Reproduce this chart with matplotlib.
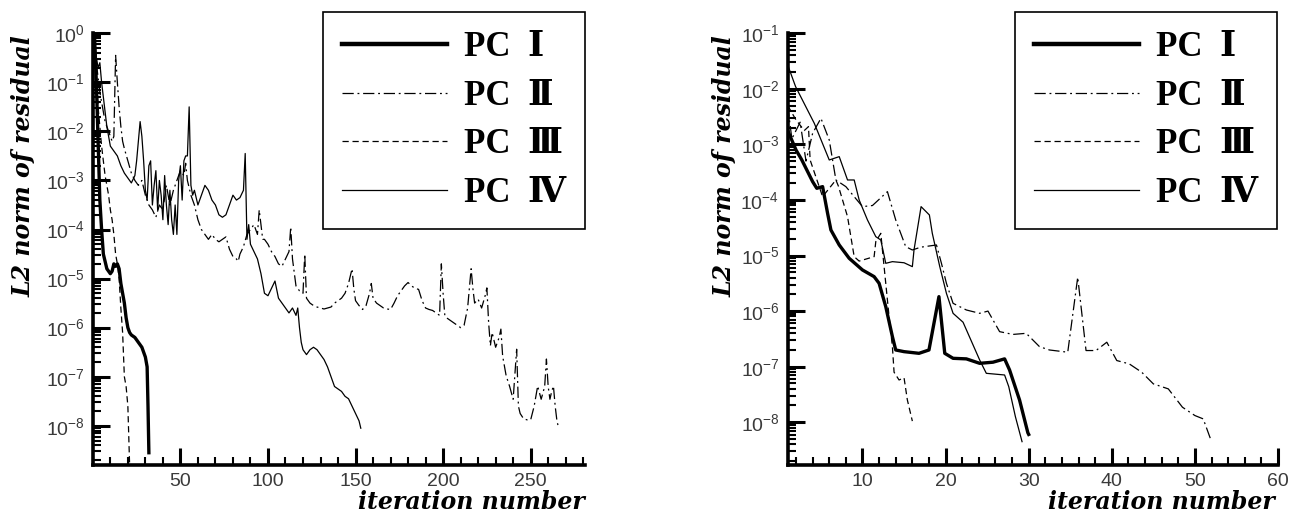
import matplotlib
matplotlib.use("Agg")
import matplotlib.pyplot as plt
from matplotlib.lines import Line2D
from matplotlib.ticker import LogLocator, MultipleLocator, FixedLocator, NullFormatter
import numpy as np

plt.rcParams['mathtext.fontset'] = 'custom'
plt.rcParams['mathtext.rm'] = 'Liberation Sans'
plt.rcParams['mathtext.it'] = 'Liberation Sans'
plt.rcParams['font.family'] = ['Liberation Sans']

# series as (iteration, log10 of residual)
labels = ["PC  Ⅰ", "PC  Ⅱ", "PC  Ⅲ", "PC  Ⅳ"]

# left panel
left_pc1 = [(1, -0.1), (2, -1.0), (3, -2.2), (4, -3.4), (5, -4.0), (6, -4.5), (8, -4.8), (10, -4.9),
            (11, -4.85), (12, -4.7), (13, -4.75), (14, -4.7), (15, -4.8), (16, -5.1), (17, -5.3),
            (18, -5.5), (19, -5.8), (20, -6.0), (21, -6.1), (22, -6.15), (24, -6.2), (26, -6.3),
            (28, -6.4), (29, -6.5), (30, -6.6), (31, -6.8), (31.5, -7.6), (32, -8.55)]

left_pc2 = [(1, -0.2), (2, -0.6), (3, -0.9), (4, -1.2), (5, -1.4), (6, -1.6), (7, -1.8), (8, -1.9),
            (9, -2.0), (10, -2.1), (11, -2.2), (12, -2.1), (13, -0.45), (14, -1.0), (15, -1.5),
            (16, -1.9), (17, -2.2), (18, -2.35), (20, -2.6), (22, -2.85), (24, -3.0), (26, -3.1),
            (28, -3.0), (30, -3.3), (32, -3.5), (34, -3.6), (36, -3.75), (38, -3.5), (40, -3.6),
            (42, -3.1), (44, -3.5), (46, -3.2), (48, -3.0), (50, -2.8), (52, -2.9), (53, -2.65),
            (54, -3.0), (56, -3.3), (58, -3.5), (60, -3.8), (62, -4.0), (64, -4.1), (66, -4.2),
            (68, -4.1), (70, -4.2), (72, -4.25), (74, -4.2), (76, -4.15), (78, -4.4), (80, -4.55),
            (82, -4.6), (83, -4.65), (84, -4.5), (86, -4.35), (88, -4.1), (90, -4.0), (92, -3.9),
            (94, -4.1), (95, -3.6), (96, -3.9), (97, -4.2), (98, -4.2), (100, -4.3), (102, -4.45),
            (104, -4.55), (106, -4.7), (108, -4.75), (110, -4.6), (112, -4.45), (113, -3.95),
            (114, -4.6), (116, -5.15), (118, -5.25), (120, -5.3), (121, -4.5), (122, -5.4),
            (124, -5.5), (126, -5.55), (128, -5.58), (130, -5.6), (132, -5.62), (134, -5.6),
            (136, -5.58), (138, -5.5), (140, -5.45), (142, -5.4), (144, -5.3), (146, -5.1),
            (148, -4.8), (149, -5.2), (150, -5.45), (152, -5.55), (154, -5.63), (156, -5.55),
            (158, -5.3), (159, -5.1), (160, -5.4), (162, -5.5), (164, -5.55), (166, -5.6),
            (168, -5.62), (170, -5.63), (172, -5.5), (174, -5.35), (176, -5.25), (178, -5.15),
            (180, -5.08), (182, -5.15), (184, -5.2), (186, -5.22), (188, -5.45), (190, -5.6),
            (192, -5.63), (194, -5.65), (196, -5.7), (198, -5.75), (199, -4.7), (200, -5.3),
            (201, -5.76), (202, -5.8), (204, -5.85), (206, -5.9), (208, -5.95), (210, -6.0),
            (212, -5.95), (214, -5.6), (216, -4.8), (217, -5.2), (218, -5.5), (220, -5.42),
            (222, -5.6), (224, -5.35), (225, -5.19), (226, -5.9), (227, -6.37), (228, -6.1),
            (230, -6.4), (232, -6.2), (233, -6.03), (234, -6.58), (236, -6.98), (238, -7.2),
            (240, -7.46), (242, -6.44), (243, -7.6), (244, -7.75), (246, -7.86), (248, -7.88),
            (250, -7.88), (252, -7.6), (254, -7.19), (256, -7.46), (258, -7.2), (259, -6.64),
            (260, -7.2), (261, -7.46), (262, -7.3), (263, -7.19), (264, -7.6), (265, -7.9),
            (266, -8.05)]

left_pc3 = [(1, -0.3), (2, -0.9), (3, -1.5), (4, -1.9), (5, -2.3), (6, -2.6), (7, -2.9), (8, -3.1),
            (9, -3.3), (10, -3.6), (11, -3.8), (12, -4.1), (13, -4.5), (14, -4.7), (15, -5.0),
            (16, -5.6), (17, -6.1), (18, -7.0), (19, -7.2), (20, -7.6), (21, -8.8)]

left_pc4 = [(1, -0.1), (2, -0.5), (3, -0.7), (4, -0.6), (5, -1.0), (6, -1.3), (7, -1.6), (8, -1.9),
            (9, -2.1), (10, -2.3), (12, -2.4), (14, -2.5), (16, -2.7), (18, -2.85), (20, -2.95),
            (22, -3.05), (24, -2.9), (25, -2.6), (26, -2.2), (27, -1.8), (28, -2.1), (29, -2.6),
            (30, -3.2), (31, -3.4), (32, -2.7), (33, -2.6), (34, -3.5), (35, -3.1), (36, -2.8),
            (37, -3.6), (38, -3.0), (39, -3.3), (40, -3.8), (41, -2.9), (42, -3.5), (43, -3.9),
            (44, -3.2), (45, -3.8), (46, -4.1), (47, -3.5), (48, -4.1), (49, -3.0), (50, -2.7),
            (51, -3.4), (52, -2.6), (53, -2.5), (54, -2.5), (55, -1.5), (56, -3.1), (57, -3.3),
            (58, -3.2), (60, -3.5), (62, -3.3), (64, -3.1), (66, -3.2), (68, -3.4), (70, -3.5),
            (72, -3.7), (74, -3.75), (76, -3.7), (78, -3.5), (80, -3.3), (82, -3.4), (84, -3.35),
            (86, -3.2), (87, -2.45), (88, -4.2), (89, -3.9), (90, -4.3), (92, -4.45), (94, -4.6),
            (96, -4.9), (98, -5.3), (100, -5.35), (102, -5.2), (104, -5.05), (106, -5.4),
            (108, -5.5), (110, -5.6), (112, -5.7), (114, -5.6), (116, -5.75), (117, -5.6),
            (118, -6.0), (119, -6.3), (120, -6.45), (122, -6.55), (124, -6.45), (126, -6.4),
            (128, -6.45), (130, -6.55), (132, -6.65), (134, -6.8), (136, -7.0), (138, -7.2),
            (140, -7.25), (142, -7.3), (144, -7.4), (146, -7.45), (148, -7.6), (150, -7.75),
            (152, -7.9), (153, -8.05)]

# right panel
right_pc1 = [(1, -2.75), (2, -3.1), (2.7, -3.28), (4, -3.67), (4.5, -3.79), (5.2, -3.76),
             (5.8, -4.24), (6.2, -4.54), (7.2, -4.81), (8.4, -5.05), (10, -5.26), (11.4, -5.38),
             (12, -5.5), (12.8, -5.92), (13.6, -6.46), (14, -6.7), (15, -6.73), (16.8, -6.76),
             (18, -6.7), (19.2, -5.74), (19.9, -6.76), (20.9, -6.85), (22.5, -6.86), (24.1, -6.94),
             (25.7, -6.92), (27.1, -6.86), (27.7, -7.06), (28.9, -7.6), (29.9, -8.19), (30, -8.22)]

right_pc2 = [(1, -2.3), (1.5, -2.9), (2.5, -2.6), (3.2, -3.3), (4, -2.8), (5, -2.53), (6, -2.92),
             (6.8, -3.64), (8, -3.76), (10, -4.12), (11.2, -4.1), (13, -3.85), (14, -4.36),
             (15.2, -4.84), (16, -4.9), (17, -4.85), (18.9, -4.81), (19.5, -5.14), (20.1, -5.5),
             (20.9, -5.86), (22.5, -5.98), (24.1, -6.04), (25.1, -6.0), (26.5, -6.37),
             (28.1, -6.42), (29.7, -6.4), (31.3, -6.64), (32.5, -6.7), (34.7, -6.74), (35.9, -5.39),
             (36.9, -6.71), (38.1, -6.71), (39.4, -6.56), (40.6, -6.89), (42.1, -6.95),
             (43.6, -7.1), (45, -7.31), (46.8, -7.4), (48.5, -7.73), (50, -7.88), (51, -7.94),
             (52, -8.35)]

right_pc3 = [(1, -2.3), (2, -2.56), (3, -2.75), (3.5, -2.68), (3.7, -3.28), (5.2, -3.94),
             (6.8, -3.64), (7.1, -3.75), (8.2, -4.3), (9, -5.02), (9.6, -5.1), (11.4, -5.02),
             (11.6, -4.75), (12.2, -4.6), (12.8, -5.5), (13.2, -6.1), (13.6, -6.64), (13.8, -7.1),
             (14.4, -7.24), (15, -7.2), (15.4, -7.6), (16, -7.98)]

right_pc4 = [(1, -1.57), (1.95, -1.96), (4.2, -2.62), (6, -3.28), (7.2, -3.22), (8.2, -3.64),
             (9, -3.64), (9.6, -4.0), (10.6, -4.36), (11.6, -4.66), (12.2, -4.72), (12.8, -5.14),
             (13.6, -5.11), (15, -5.13), (16, -5.2), (16.2, -4.9), (17.05, -4.12), (18.05, -4.27),
             (18.4, -4.6), (19.3, -5.2), (20.1, -5.68), (20.9, -6.04), (22.1, -6.2), (24.1, -6.88),
             (24.9, -7.12), (27.1, -7.15), (27.6, -7.36), (28.4, -7.9), (29.2, -8.35)]

styles = [dict(color="black", lw=2.4, ls="-"),
          dict(color="black", lw=0.9, ls=(0, (9, 3, 1.5, 3))),
          dict(color="black", lw=0.9, ls=(0, (5, 3))),
          dict(color="black", lw=0.9, ls="-")]

fig = plt.figure(figsize=(12.93, 5.21), dpi=100)
ax1 = fig.add_axes([0.0718, 0.1075, 0.3806, 0.8286])
ax2 = fig.add_axes([0.6092, 0.1075, 0.3792, 0.8286])

panels = [(ax1, [left_pc1, left_pc2, left_pc3, left_pc4], (0, 281), (10 ** -8.8, 1.0),
           [50, 100, 150, 200, 250], 10, range(-8, 1)),
          (ax2, [right_pc1, right_pc2, right_pc3, right_pc4], (1, 60), (10 ** -8.77, 0.1),
           [10, 20, 30, 40, 50, 60], 2, range(-8, 0))]

for ax, series, xl, yl, xt, xminor, decades in panels:
    for data, st in zip(series, styles):
        x = [p[0] for p in data]
        y = [10 ** p[1] for p in data]
        ax.semilogy(x, y, **st)
    ax.set_xlim(*xl)
    ax.set_ylim(*yl)
    ax.xaxis.set_major_locator(FixedLocator(xt))
    ax.xaxis.set_minor_locator(MultipleLocator(xminor))
    ax.yaxis.set_major_locator(FixedLocator([10.0 ** d for d in decades]))
    ax.yaxis.set_minor_locator(LogLocator(base=10, subs=np.arange(2, 10), numticks=20))
    ax.yaxis.set_minor_formatter(NullFormatter())
    ax.tick_params(which="major", direction="in", length=12, width=2.2,
                   labelsize=14, labelcolor="#3a3a3a", pad=6)
    ax.tick_params(which="minor", direction="in", length=6, width=1.5)
    for s in ["top", "right"]:
        ax.spines[s].set_visible(False)
    for s in ["left", "bottom"]:
        ax.spines[s].set_linewidth(2.6)

# legends
handles = [Line2D([], [], **st) for st in styles]
handles[0].set_linewidth(3.2)
for ax, right in [(ax1, 585 / 1293), (ax2, 1277 / 1293)]:
    leg = ax.legend(handles, labels, loc="upper right", bbox_to_anchor=(right, 1 - 12 / 521),
                    bbox_transform=fig.transFigure, frameon=True, fancybox=False,
                    edgecolor="black", framealpha=1,
                    prop=dict(family=["Liberation Serif", "DejaVu Serif"], weight="bold", size=25),
                    handlelength=3.0, handletextpad=0.5, labelspacing=0.45, borderpad=0.55,
                    borderaxespad=0)
    leg.get_frame().set_linewidth(1.2)

# axis titles
for xc in [24 / 1293, 725 / 1293]:
    fig.text(xc, 1 - 166 / 521, "L2 norm of residual", rotation=90, ha="center", va="center",
             family="DejaVu Serif", weight="bold", style="italic", size=17)
for xr in [585 / 1293, 1275 / 1293]:
    fig.text(xr, 1 - 502 / 521, "iteration number", ha="right", va="center",
             family="DejaVu Serif", weight="bold", style="italic", size=17)

fig.savefig("out.png", dpi=100)
